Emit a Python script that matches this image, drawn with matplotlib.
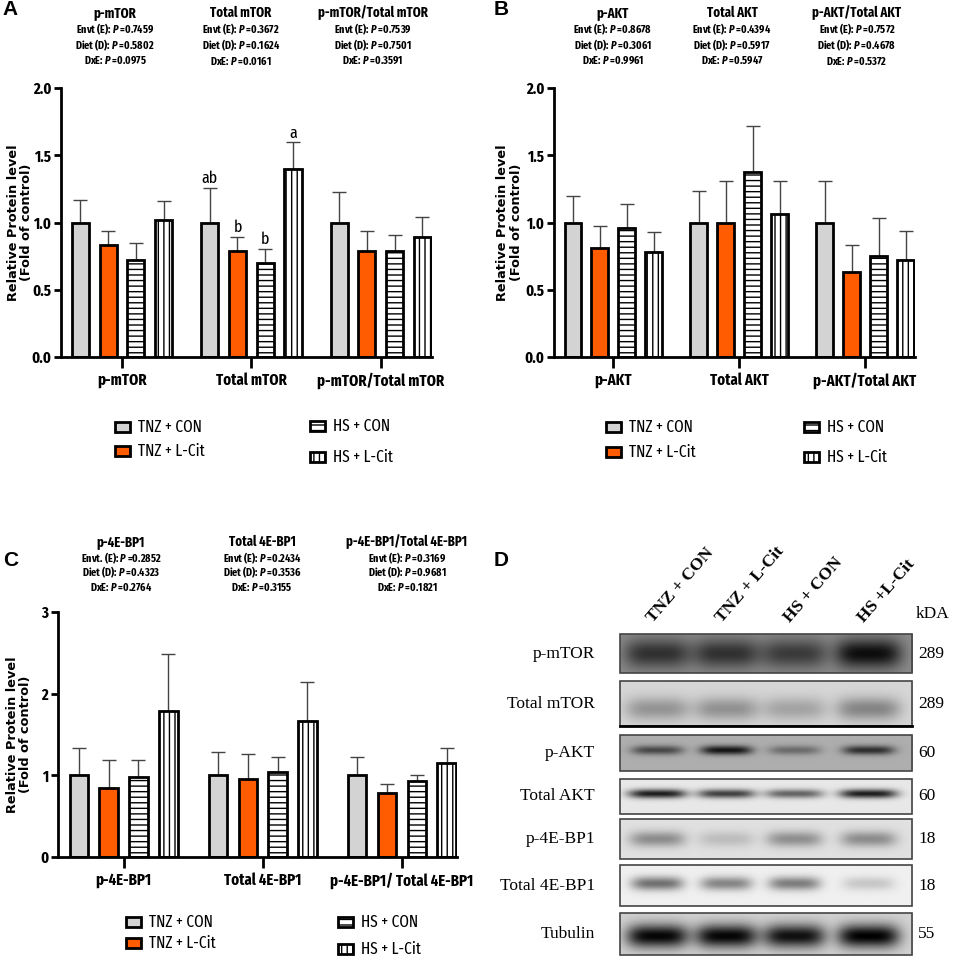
import numpy as np
import matplotlib
matplotlib.use('Agg')
import matplotlib.pyplot as plt
from matplotlib.patches import Rectangle

plt.rcParams['font.family'] = ['Liberation Sans', 'DejaVu Sans']
plt.rcParams['hatch.linewidth'] = 1.0
plt.rcParams['mathtext.fontset'] = 'custom'
plt.rcParams['mathtext.it'] = 'Fira Sans Extra Condensed:italic:bold'
plt.rcParams['mathtext.rm'] = 'Fira Sans Extra Condensed:bold'

NARROW = ['Fira Sans Extra Condensed', 'Roboto Condensed', 'DejaVu Sans']
SERIF = ['Liberation Serif', 'DejaVu Serif']

# ---------------- data ----------------
treatments = ['TNZ + CON', 'TNZ + L-Cit', 'HS + CON', 'HS + L-Cit']

mtor_cats = ['p-mTOR', 'Total mTOR', 'p-mTOR/Total mTOR']
mtor_means = [[1.00, 0.83, 0.72, 1.02], [1.00, 0.79, 0.70, 1.40], [1.00, 0.79, 0.79, 0.89]]
mtor_sem = [[0.17, 0.11, 0.125, 0.14], [0.255, 0.10, 0.10, 0.195], [0.225, 0.145, 0.12, 0.15]]
mtor_letters = [None, ['ab', 'b', 'b', 'a'], None]
mtor_p = [['0.7459', '0.5802', '0.0975'], ['0.3672', '0.1624', '0.0161'], ['0.7539', '0.7501', '0.3591']]

akt_cats = ['p-AKT', 'Total AKT', 'p-AKT/Total AKT']
akt_means = [[1.00, 0.81, 0.96, 0.78], [1.00, 1.00, 1.375, 1.06], [1.00, 0.635, 0.75, 0.72]]
akt_sem = [[0.20, 0.165, 0.18, 0.15], [0.235, 0.305, 0.34, 0.25], [0.31, 0.195, 0.285, 0.22]]
akt_p = [['0.8678', '0.3061', '0.9961'], ['0.4394', '0.5917', '0.5947'], ['0.7572', '0.4678', '0.5372']]

bp1_cats = ['p-4E-BP1', 'Total 4E-BP1', 'p-4E-BP1/ Total 4E-BP1']
bp1_titles = ['p-4E-BP1', 'Total 4E-BP1', 'p-4E-BP1/Total 4E-BP1']
bp1_means = [[1.00, 0.85, 0.98, 1.79], [1.00, 0.96, 1.04, 1.665], [1.00, 0.785, 0.935, 1.15]]
bp1_sem = [[0.335, 0.34, 0.21, 0.69], [0.28, 0.30, 0.19, 0.475], [0.225, 0.105, 0.07, 0.18]]
bp1_p = [['0.2852', '0.4323', '0.2764'], ['0.2434', '0.3536', '0.3155'], ['0.3169', '0.9681', '0.1821']]

# western blot: row labels, kDa, background grey, band darkness per lane
blot_rows = ['p-mTOR', 'Total mTOR', 'p-AKT', 'Total AKT', 'p-4E-BP1', 'Total 4E-BP1', 'Tubulin']
blot_kda = ['289', '289', '60', '60', '18', '18', '55']
blot_bg = [0.55, 0.84, 0.68, 0.91, 0.88, 0.94, 0.82]
blot_bands = [[0.36, 0.36, 0.32, 0.50],
              [0.26, 0.27, 0.20, 0.32],
              [0.40, 0.60, 0.26, 0.50],
              [0.80, 0.66, 0.52, 0.80],
              [0.33, 0.14, 0.32, 0.33],
              [0.50, 0.42, 0.45, 0.16],
              [0.80, 0.80, 0.76, 0.82]]

colors = ['#D3D3D3', '#FF5B00', 'white', 'white']
hatches = [None, None, '---', '|||']

W, H = 955, 956
fig = plt.figure(figsize=(W / 100, H / 100), dpi=100)

# overlay in pixel coords for free text, legends and the blot
ov = fig.add_axes([0, 0, 1, 1])
ov.set_xlim(0, W)
ov.set_ylim(H, 0)
ov.axis('off')
ov.patch.set_alpha(0)


def px_axes(x0, y0, x1, y1):
    return fig.add_axes([x0 / W, 1 - y1 / H, (x1 - x0) / W, (y1 - y0) / H])


def draw_bars(ax, cats, means, sems, ymax, yticks, ytl, letters=None, label_x=-0.06):
    gap = 4.667
    for g in range(3):
        x = g * gap + np.arange(4)
        ax.errorbar(x, means[g], yerr=[np.zeros(4), sems[g]], fmt='none', ecolor='#444444',
                    elinewidth=1, capsize=5, capthick=1, zorder=1)
        for j in range(4):
            ax.bar(x[j], means[g][j], width=0.62, color=colors[j], edgecolor='black',
                   linewidth=2.0, hatch=hatches[j], zorder=2)
        if letters is not None and letters[g] is not None:
            for j in range(4):
                ax.text(x[j], means[g][j] + sems[g][j] + 0.012, letters[g][j], ha='center',
                        va='bottom', fontsize=12.5, family=NARROW)
    ax.set_xlim(-0.7, 2 * gap + 3 + 0.35)
    ax.set_ylim(0, ymax)
    ax.set_xticks([gap * g + 1.5 for g in range(3)])
    ax.set_xticklabels(cats, fontsize=11.5, fontweight='bold', family=NARROW)
    ax.set_yticks(yticks)
    ax.set_yticklabels(ytl, fontsize=11.5, fontweight='bold', family=NARROW)
    ax.tick_params(axis='x', length=8, width=2, pad=3)
    ax.tick_params(axis='y', length=5, width=2, pad=2)
    for s in ['top', 'right']:
        ax.spines[s].set_visible(False)
    for s in ['left', 'bottom']:
        ax.spines[s].set_linewidth(2)
    ax.patch.set_alpha(0)
    ax.set_ylabel('Relative Protein level\n(Fold of control)', fontsize=9.3, fontweight='bold',
                  family=['DejaVu Sans'], linespacing=1.05)
    ax.yaxis.set_label_coords(label_x, 0.5)


def headers(titles, pvals, xs, y0, envt, step):
    for i in range(3):
        ov.text(xs[i], y0, titles[i], ha='center', va='center', fontsize=10, fontweight='bold', family=NARROW)
        lines = [envt[i] + ': $\\it{P}$ =' + pvals[i][0],
                 'Diet (D): $\\it{P}$ =' + pvals[i][1],
                 'DxE: $\\it{P}$ =' + pvals[i][2]]
        for k, t in enumerate(lines):
            ov.text(xs[i], y0 + 16 + step * k, t, ha='center', va='center', fontsize=8,
                    fontweight='bold', family=NARROW)


def legend(x_left, x_right, ys_left, ys_right):
    pos = [(x_left, ys_left[0]), (x_left, ys_left[1]), (x_right, ys_right[0]), (x_right, ys_right[1])]
    for j, (x, y) in enumerate(pos):
        ov.add_patch(Rectangle((x, y - 5), 15, 10, facecolor=colors[j], edgecolor='black',
                               linewidth=2.0, hatch=hatches[j]))
        ov.text(x + 23, y, treatments[j], ha='left', va='center', fontsize=12, family=NARROW)


envt_plain = ['Envt (E)'] * 3

# ---------------- panel A ----------------
axA = px_axes(61, 88, 432, 357)
draw_bars(axA, mtor_cats, mtor_means, mtor_sem, 2.0, [0, 0.5, 1.0, 1.5, 2.0],
          ['0.0', '0.5', '1.0', '1.5', '2.0'], letters=mtor_letters, label_x=-0.075)
headers(mtor_cats, mtor_p, [115, 241, 373], 13, envt_plain, 16)
legend(115, 310, [427, 451], [426, 457])
ov.text(2, 9, 'A', fontsize=15, fontweight='bold', va='center')

# ---------------- panel B ----------------
axB = px_axes(554, 88, 915, 357)
draw_bars(axB, akt_cats, akt_means, akt_sem, 2.0, [0, 0.5, 1.0, 1.5, 2.0],
          ['0.0', '0.5', '1.0', '1.5', '2.0'], label_x=-0.086)
headers(akt_cats, akt_p, [613, 732, 857], 13, envt_plain, 16)
legend(606, 804, [427, 452], [427, 457])
ov.text(494, 9, 'B', fontsize=15, fontweight='bold', va='center')

# ---------------- panel C ----------------
axC = px_axes(58, 612, 457, 857)
draw_bars(axC, bp1_cats, bp1_means, bp1_sem, 3.0, [0, 1, 2, 3], ['0', '1', '2', '3'], label_x=-0.065)
headers(bp1_titles, bp1_p, [121, 262, 407], 542, ['Envt. (E)', 'Envt (E)', 'Envt (E)'], 14.5)
legend(126, 338, [922, 943], [922, 949])
ov.text(3, 560, 'C', fontsize=15, fontweight='bold', va='center')

# ---------------- panel D (blot) ----------------
ov.text(494, 561, 'D', fontsize=15, fontweight='bold', va='center')
lane_x = [657, 726, 794, 868]
row_y = [(634, 673), (681, 726), (735, 771), (779, 814), (819, 859), (865, 906), (913, 955)]
band_yc = [0.50, 0.62, 0.42, 0.42, 0.50, 0.45, 0.55]
band_sy = [0.38, 0.26, 0.13, 0.13, 0.20, 0.17, 0.28]
band_sx = [33, 32, 26, 29, 28, 26, 31]
bx0, bx1 = 620, 912
for r, (y0, y1) in enumerate(row_y):
    xs = np.linspace(bx0, bx1, 300)
    ys = np.linspace(0, 1, 60)
    X, Y = np.meshgrid(xs, ys)
    img = np.full(X.shape, blot_bg[r])
    for j, lx in enumerate(lane_x):
        img -= blot_bands[r][j] * np.exp(-((X - lx) / band_sx[r]) ** 4) * \
            np.exp(-((Y - band_yc[r]) / band_sy[r]) ** 2)
    ov.imshow(np.clip(img, 0, 1), cmap='gray', vmin=0, vmax=1, extent=(bx0, bx1, y1, y0),
              aspect='auto', interpolation='bilinear', zorder=1)
    ov.add_patch(Rectangle((bx0, y0), bx1 - bx0, y1 - y0, fill=False, edgecolor='#444444',
                           linewidth=1.2, zorder=2))
    ov.text(595, (y0 + y1) / 2, blot_rows[r], ha='right', va='center', fontsize=12.5, family=SERIF)
    ov.text(918, (y0 + y1) / 2, blot_kda[r], ha='left', va='center', fontsize=12.5, family=SERIF)
ov.plot([bx0, bx1], [row_y[1][1], row_y[1][1]], color='black', linewidth=2, zorder=3)
ov.text(916, 614, 'kDA', ha='left', va='center', fontsize=12.5, family=SERIF)
for j, lx in enumerate(lane_x):
    lab = treatments[j] if j < 3 else 'HS +L-Cit'
    ov.text(lx - 1, 626, lab, rotation=49, rotation_mode='anchor', ha='left', va='bottom',
            fontsize=12.5, fontweight='bold', family=SERIF)
ov.set_xlim(0, W)
ov.set_ylim(H, 0)

fig.savefig('out.png', dpi=100)
